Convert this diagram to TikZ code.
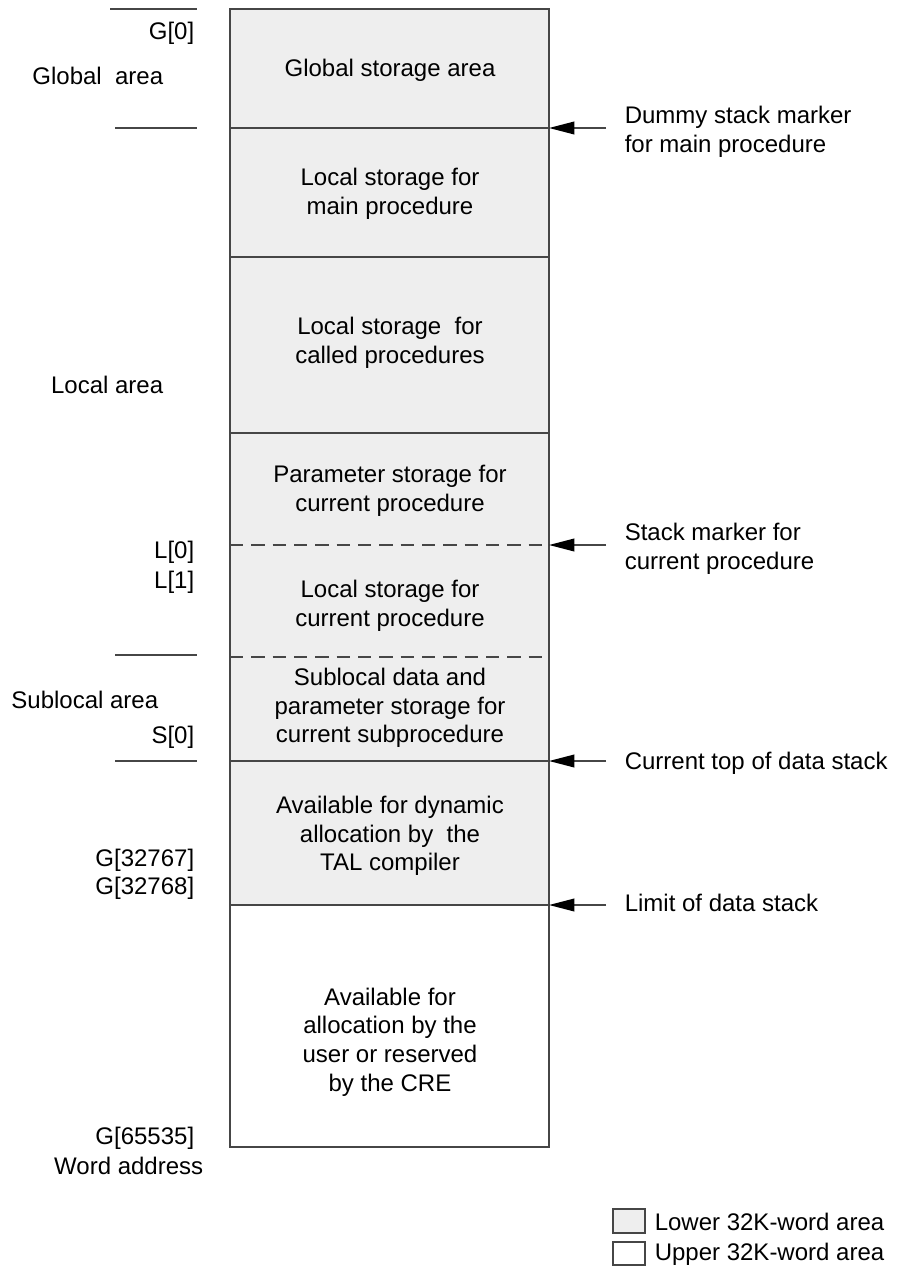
\documentclass[tikz,border=0pt]{standalone}
\usepackage{fontspec}
\setmainfont{Liberation Sans}
\usetikzlibrary{arrows.meta}
\definecolor{lowgray}{RGB}{238,238,238}
\definecolor{linegray}{RGB}{70,70,70}
\tikzset{every picture/.style={line width=1.2pt}}
\tikzset{lbl/.style={inner sep=0.75pt, font=\fontsize{18}{21.5}\selectfont, align=center},
  marker/.style={draw=linegray, -{Triangle[length=19pt,width=9.5pt,black]}}}

\begin{document}
\begin{tikzpicture}[x=0.75pt,y=0.75pt,yscale=-1,xscale=1]
\useasboundingbox (0,0) rectangle (898,1273);

%Shape: Rectangle
\draw[draw=linegray, fill=lowgray] (230,9) rectangle (549,905) ;
%Shape: Rectangle
\draw[draw=linegray, fill=white] (230,905) rectangle (549,1147) ;
%Straight Lines
\foreach \y in {128,257,433,761} \draw[linegray] (230,\y) -- (549,\y) ;
%Straight Lines
\foreach \y in {545,657} \draw[linegray, dash pattern=on 10pt off 6pt] (230,\y) -- (542,\y) ;
%Straight Lines
\draw[linegray] (110,9) -- (197,9) ;
\foreach \y in {128,655,761} \draw[linegray] (115,\y) -- (197,\y) ;

% Text Node
\node[lbl] (glob) at (390,70) {Global storage area};
\node[lbl] (mainloc) at (390,194) {Local storage for\\main procedure};
\node[lbl] (called) at (390,343) {Local storage\ \ for\\called procedures};
\node[lbl] (param) at (390,491) {Parameter storage for\\current procedure};
\node[lbl] (curloc) at (390,606) {Local storage for\\current procedure};
\node[lbl] (subloc) at (390,708) {Sublocal data and\\parameter storage for\\current subprocedure};
\node[lbl] (dyn) at (390,836) {Available for dynamic\\allocation by\ \ the\\TAL compiler};
\node[lbl] (user) at (390,1042) {Available for\\allocation by the\\user or reserved\\by the CRE};

% Text Node
\node[lbl, anchor=east] (g0) at (196,33) {G[0]};
\node[lbl, anchor=east] (globarea) at (165,76) {Global\ \ area};
\node[lbl, anchor=east] (locarea) at (165,385) {Local area};
\node[lbl, anchor=east] (l0) at (196,552) {L[0]};
\node[lbl, anchor=east] (l1) at (196,582) {L[1]};
\node[lbl, anchor=east] (subarea) at (160,700) {Sublocal area};
\node[lbl, anchor=east] (s0) at (196,737) {S[0]};
\node[lbl, anchor=east] (g32767) at (196,860) {G[32767]};
\node[lbl, anchor=east] (g32768) at (196,888) {G[32768]};
\node[lbl, anchor=east] (g65535) at (196,1138) {G[65535]};
\node[lbl, anchor=east] (wordaddr) at (205,1166) {Word address};

% Text Node
\node[lbl, anchor=west, align=left] (dummy) at (623,132) {Dummy stack marker\\for main procedure};
\node[lbl, anchor=west, align=left] (stackmk) at (623,549) {Stack marker for\\current procedure};
\node[lbl, anchor=west, align=left] (curtop) at (623,763) {Current top of data stack};
\node[lbl, anchor=west, align=left] (limit) at (623,903) {Limit of data stack};

%Straight Lines
\coordinate (dummyT) at (606,128); \coordinate (dummyH) at (549,128);
\coordinate (stackT) at (606,545); \coordinate (stackH) at (549,545);
\coordinate (topT) at (606,761); \coordinate (topH) at (549,761);
\coordinate (limT) at (606,905); \coordinate (limH) at (549,905);
\draw[marker] (dummyT) -- (dummyH) ;
\draw[marker] (stackT) -- (stackH) ;
\draw[marker] (topT) -- (topH) ;
\draw[marker] (limT) -- (limH) ;

%Shape: Rectangle
\draw[draw=linegray, fill=lowgray, line width=0.9pt] (613,1209) rectangle (645,1233) ;
\draw[draw=linegray, fill=white, line width=0.9pt] (613,1242) rectangle (645,1265) ;
% Text Node
\node[lbl, anchor=west] (lower) at (653,1222) {Lower 32K-word area};
\node[lbl, anchor=west] (upper) at (653,1254) {Upper 32K-word area};

\end{tikzpicture}
\end{document}
